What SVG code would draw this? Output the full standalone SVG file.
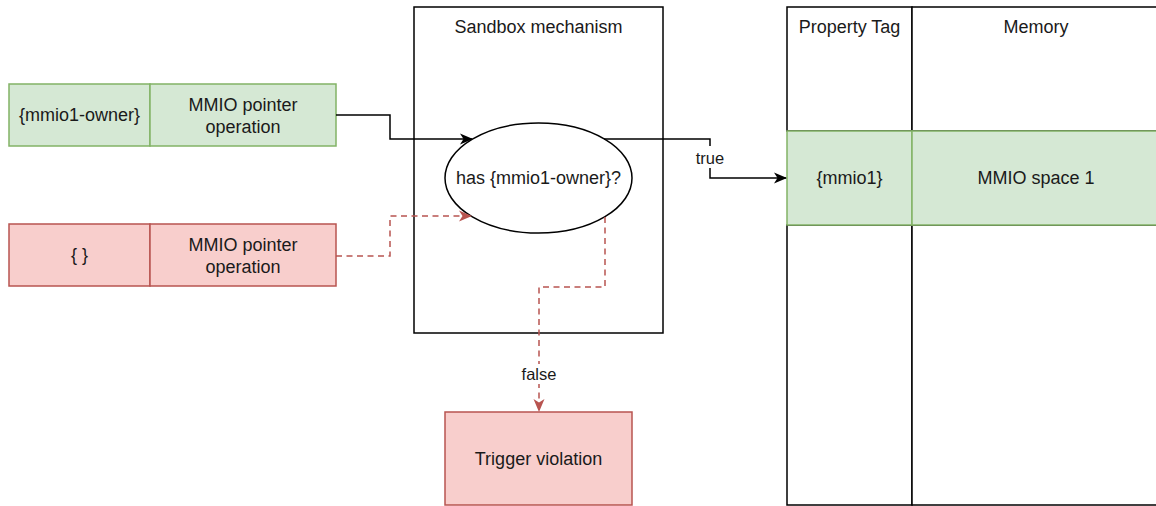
<svg xmlns="http://www.w3.org/2000/svg" width="1156" height="506" viewBox="0 0 1156 506">
  <style>
    text { font-family: "Liberation Sans", Arial, Helvetica, sans-serif; fill: #1a1a1a; text-anchor: middle; dominant-baseline: central; }
    .t { font-size: 18px; }
    .lbl { font-size: 16.5px; }
    .plain { fill: #ffffff; stroke: #000000; stroke-width: 1.5; }
    .ok { fill: #d5e8d4; stroke: #82b366; stroke-width: 1.5; }
    .bad { fill: #f8cecc; stroke: #b85450; stroke-width: 1.5; }
    .edge { fill: none; stroke: #000000; stroke-width: 1.5; }
    .dash { fill: none; stroke: #b85450; stroke-width: 1.5; stroke-dasharray: 6 4.5; }
  </style>
  <defs>
    <marker id="arrowBlack" markerUnits="userSpaceOnUse" viewBox="0 0 13 12" refX="12" refY="6" markerWidth="13" markerHeight="12" orient="auto">
      <path d="M0,0.5 L13,6 L0,11.5 L3.5,6 Z" fill="#000000"/>
    </marker>
    <marker id="arrowRed" markerUnits="userSpaceOnUse" viewBox="0 0 13 12" refX="12" refY="6" markerWidth="13" markerHeight="12" orient="auto">
      <path d="M0,0.5 L13,6 L0,11.5 L3.5,6 Z" fill="#b85450"/>
    </marker>
  </defs>

  <rect width="1156" height="506" fill="#ffffff"/>

  <!-- Sandbox container -->
  <g id="sandbox">
    <rect class="plain" x="414" y="7" width="249" height="326"/>
    <text class="t" x="538.5" y="27">Sandbox mechanism</text>
  </g>

  <!-- Memory table -->
  <g id="tag-header">
    <rect class="plain" x="787" y="7" width="125" height="124"/>
    <text class="t" x="849.5" y="27">Property Tag</text>
  </g>
  <g id="memory-header">
    <rect class="plain" x="912" y="7" width="250" height="124"/>
    <text class="t" x="1036" y="27">Memory</text>
  </g>
  <g id="tag-empty">
    <rect class="plain" x="787" y="225" width="125" height="280"/>
  </g>
  <g id="memory-empty">
    <rect class="plain" x="912" y="225" width="250" height="280"/>
  </g>
  <g id="tag-mmio1">
    <rect class="ok" x="787" y="131" width="125" height="94"/>
    <text class="t" x="849.5" y="178">{mmio1}</text>
  </g>
  <g id="memory-mmio1">
    <rect class="ok" x="912" y="131" width="250" height="94"/>
    <text class="t" x="1036" y="178">MMIO space 1</text>
  </g>

  <!-- Requests -->
  <g id="owner-tag">
    <rect class="ok" x="9" y="84" width="141" height="62"/>
    <text class="t" x="79.5" y="115">{mmio1-owner}</text>
  </g>
  <g id="owner-op">
    <rect class="ok" x="150" y="84" width="186" height="62"/>
    <text class="t" x="243" y="105">MMIO pointer</text>
    <text class="t" x="243" y="127">operation</text>
  </g>
  <g id="empty-tag">
    <rect class="bad" x="9" y="224" width="141" height="62"/>
    <text class="t" x="79.5" y="255">{ }</text>
  </g>
  <g id="empty-op">
    <rect class="bad" x="150" y="224" width="186" height="62"/>
    <text class="t" x="243" y="245">MMIO pointer</text>
    <text class="t" x="243" y="267">operation</text>
  </g>

  <!-- Check -->
  <g id="check">
    <ellipse class="plain" cx="538.5" cy="178" rx="93.5" ry="55"/>
    <text class="t" x="538.5" y="178">has {mmio1-owner}?</text>
  </g>

  <g id="violation">
    <rect class="bad" x="445" y="412" width="187" height="93"/>
    <text class="t" x="538.5" y="458.5">Trigger violation</text>
  </g>

  <!-- Connectors -->
  <g id="connectors">
    <path class="edge" d="M336,115 H390 V139 H472" marker-end="url(#arrowBlack)"/>
    <path class="dash" d="M336,256 H390 V216 H471" marker-end="url(#arrowRed)"/>
    <path class="edge" d="M604,139 H710 V178 H786" marker-end="url(#arrowBlack)"/>
    <path class="dash" d="M605,217 V287 H539 V411" marker-end="url(#arrowRed)"/>
    <rect x="692" y="146" width="36" height="22" fill="#ffffff"/>
    <text class="lbl" x="710" y="158">true</text>
    <rect x="520" y="364" width="38" height="20" fill="#ffffff"/>
    <text class="lbl" x="539" y="374">false</text>
  </g>
</svg>
